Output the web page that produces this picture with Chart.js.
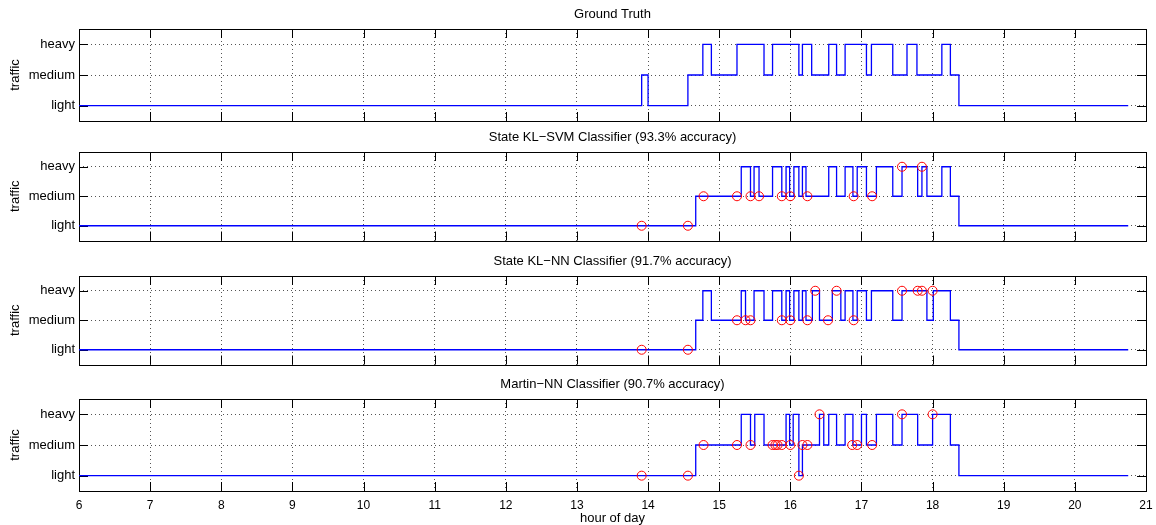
<!DOCTYPE html>
<html>
<head>
<meta charset="utf-8">
<script src="https://cdn.jsdelivr.net/npm/chart.js"></script>
<style>
body{margin:0;background:#fff}
#painel{position:relative;width:1156px;height:525px;overflow:hidden}
#painel canvas{position:absolute;left:0}
</style>
</head>
<body>
<div id="painel">
    <canvas id="graf-truth" width="1156" height="123" style="top:0px"></canvas>
    <canvas id="graf-svm" width="1156" height="123" style="top:123px"></canvas>
    <canvas id="graf-nn" width="1156" height="123" style="top:247px"></canvas>
    <canvas id="graf-martin" width="1156" height="155" style="top:370px"></canvas>
</div>
<script>
// traffic levels (0 = light, 1 = medium, 2 = heavy)
var levelLabels = ['light', 'medium', 'heavy']

// ground truth: hour where each level starts
var truthHours  = [6, 13.91, 14.00, 14.56, 14.77, 14.89, 15.25, 15.63, 15.75, 16.12, 16.17, 16.30, 16.54, 16.65, 16.77, 17.07, 17.14, 17.44, 17.64, 17.78, 18.13, 18.25, 18.37, 20.75]
var truthLevels = [0, 1, 0, 1, 2, 1, 2, 1, 2, 1, 2, 1, 2, 1, 2, 1, 2, 1, 2, 1, 2, 1, 0, 0]

// State KL-SVM classifier
var svmHours  = [6, 14.67, 15.31, 15.44, 15.49, 15.56, 15.75, 15.88, 15.94, 15.99, 16.05, 16.12, 16.17, 16.22, 16.54, 16.65, 16.77, 16.88, 16.94, 17.07, 17.21, 17.44, 17.57, 17.79, 17.85, 17.92, 18.13, 18.25, 18.37, 20.75]
var svmLevels = [0, 1, 2, 1, 2, 1, 2, 1, 2, 1, 2, 1, 2, 1, 2, 1, 2, 1, 2, 1, 2, 1, 2, 1, 2, 1, 2, 1, 0, 0]
var svmErrHours  = [13.91, 14.56, 14.78, 15.25, 15.44, 15.56, 15.88, 16.00, 16.24, 16.89, 17.15, 17.57, 17.85]
var svmErrLevels = [0, 0, 1, 1, 1, 1, 1, 1, 1, 1, 1, 2, 2]

// State KL-NN classifier
var nnHours  = [6, 14.67, 14.77, 14.89, 15.31, 15.37, 15.49, 15.63, 15.75, 15.88, 15.94, 15.99, 16.05, 16.12, 16.17, 16.22, 16.31, 16.41, 16.59, 16.71, 16.77, 16.88, 16.94, 17.07, 17.14, 17.44, 17.57, 17.92, 18.01, 18.25, 18.37, 20.75]
var nnLevels = [0, 1, 2, 1, 2, 1, 2, 1, 2, 1, 2, 1, 2, 1, 2, 1, 2, 1, 2, 1, 2, 1, 2, 1, 2, 1, 2, 1, 2, 1, 0, 0]
var nnErrHours  = [13.91, 14.56, 15.25, 15.37, 15.44, 15.88, 16.00, 16.24, 16.35, 16.53, 16.65, 16.89, 17.57, 17.79, 17.85, 18.00]
var nnErrLevels = [0, 0, 1, 1, 1, 1, 1, 1, 2, 1, 2, 1, 2, 2, 2, 2]

// Martin-NN classifier
var martinHours  = [6, 14.67, 15.31, 15.44, 15.50, 15.63, 15.94, 15.99, 16.04, 16.12, 16.17, 16.41, 16.47, 16.54, 16.65, 16.77, 16.88, 17.00, 17.07, 17.21, 17.44, 17.57, 17.79, 18.00, 18.25, 18.37, 20.75]
var martinLevels = [0, 1, 2, 1, 2, 1, 2, 1, 2, 0, 1, 2, 1, 2, 1, 2, 1, 2, 1, 2, 1, 2, 1, 2, 1, 0, 0]
var martinErrHours  = [13.91, 14.56, 14.78, 15.25, 15.44, 15.75, 15.79, 15.82, 15.88, 16.00, 16.12, 16.17, 16.24, 16.41, 16.87, 16.94, 17.15, 17.57, 18.00]
var martinErrLevels = [0, 0, 1, 1, 1, 1, 1, 1, 1, 1, 0, 1, 1, 2, 1, 1, 1, 2, 2]

var fonte = 'Helvetica, "Liberation Sans", Arial, sans-serif'

/**
 * desenha a caixa preta e os ticks para dentro (estilo matlab)
 * e centraliza o titulo sobre a area do grafico
 */
var molduraPlugin = {
    id: 'moldura',
    afterLayout: function(chart){
        var t = chart.titleBlock
        if(t){
            t.left = chart.chartArea.left
            t.right = chart.chartArea.right
        }
    },
    beforeDatasetsDraw: function(chart){
        var ctx = chart.ctx
        var a = chart.chartArea
        var sx = chart.scales.x
        var sy = chart.scales.y
        var tam = 9

        ctx.save()
        ctx.strokeStyle = '#000'
        ctx.lineWidth = 1
        ctx.beginPath()
        sx.ticks.forEach(function(t){
            var px = Math.round(sx.getPixelForValue(t.value)) + 0.5
            ctx.moveTo(px, a.top); ctx.lineTo(px, a.top + tam)
            ctx.moveTo(px, a.bottom); ctx.lineTo(px, a.bottom - tam)
        })
        sy.ticks.forEach(function(t){
            var py = Math.round(sy.getPixelForValue(t.value)) + 0.5
            ctx.moveTo(a.left, py); ctx.lineTo(a.left + tam, py)
            ctx.moveTo(a.right, py); ctx.lineTo(a.right - tam, py)
        })
        ctx.stroke()
        ctx.strokeRect(Math.round(a.left) + 0.5, Math.round(a.top) + 0.5, Math.round(a.right - a.left), Math.round(a.bottom - a.top))
        ctx.restore()
    }
}

function montaPontos(horas, niveis){
    return horas.map(function(h, i){ return {x: h, y: niveis[i]} })
}

/**
 * gera um painel do grafico
 */
function gerarPainel(id, titulo, horas, niveis, errHoras, errNiveis, comEixoX){
    var datasets = []

    if(errHoras){
        datasets.push({
            data: montaPontos(errHoras, errNiveis),
            showLine: false,
            pointStyle: 'circle',
            pointRadius: 4.5,
            pointBorderWidth: 1,
            pointBorderColor: '#ff0000',
            pointBackgroundColor: 'rgba(0,0,0,0)',
            order: 1
        })
    }

    datasets.push({
        data: montaPontos(horas, niveis),
        stepped: 'before',
        borderColor: '#0000ff',
        borderWidth: 1.3,
        pointRadius: 0,
        fill: false,
        order: 2
    })

    try{
        new Chart(document.getElementById(id), {
            type: 'line',
            data: { datasets: datasets },
            plugins: [molduraPlugin],
            options: {
                responsive: false,
                animation: false,
                layout: { padding: { left: 0, right: 10, top: 0, bottom: 0 } },
                plugins: {
                    legend: { display: false },
                    tooltip: { enabled: false },
                    title: {
                        display: true,
                        text: titulo,
                        color: '#000',
                        font: { family: fonte, size: 13, weight: 'normal' },
                        padding: { top: 7, bottom: 6.4 }
                    }
                },
                scales: {
                    x: {
                        type: 'linear',
                        min: 6,
                        max: 21,
                        ticks: {
                            display: comEixoX,
                            stepSize: 1,
                            padding: 7,
                            color: '#000',
                            maxRotation: 0,
                            font: { family: fonte, size: 12 }
                        },
                        grid: { color: '#555', lineWidth: 1, drawTicks: false },
                        border: { display: false, dash: [1, 3] },
                        title: {
                            display: comEixoX,
                            text: 'hour of day',
                            color: '#000',
                            font: { family: fonte, size: 13 },
                            padding: { top: 0, bottom: -1 }
                        },
                        afterFit: function(s){
                            s.height = comEixoX ? 34 : 2
                            s.paddingLeft = 0
                            s.paddingRight = 0
                        }
                    },
                    y: {
                        type: 'linear',
                        min: -0.5,
                        max: 2.5,
                        afterBuildTicks: function(s){
                            s.ticks = levelLabels.map(function(l, i){ return {value: i} })
                        },
                        ticks: {
                            padding: 4,
                            color: '#000',
                            font: { family: fonte, size: 13 },
                            callback: function(v){ return levelLabels[v] }
                        },
                        grid: { color: '#555', lineWidth: 1, drawTicks: false },
                        border: { display: false, dash: [1, 3] },
                        title: {
                            display: true,
                            text: 'traffic',
                            color: '#000',
                            font: { family: fonte, size: 13 },
                            padding: { top: 8, bottom: 0 }
                        },
                        afterFit: function(s){
                            s.width = 79
                            s.paddingTop = 0
                            s.paddingBottom = 0
                        }
                    }
                }
            }
        })
    }catch(e){ console.error(e) }
}

gerarPainel('graf-truth', 'Ground Truth', truthHours, truthLevels, null, null, false)
gerarPainel('graf-svm', 'State KL\u2212SVM Classifier (93.3% accuracy)', svmHours, svmLevels, svmErrHours, svmErrLevels, false)
gerarPainel('graf-nn', 'State KL\u2212NN Classifier (91.7% accuracy)', nnHours, nnLevels, nnErrHours, nnErrLevels, false)
gerarPainel('graf-martin', 'Martin\u2212NN Classifier (90.7% accuracy)', martinHours, martinLevels, martinErrHours, martinErrLevels, true)
</script>
</body>
</html>
